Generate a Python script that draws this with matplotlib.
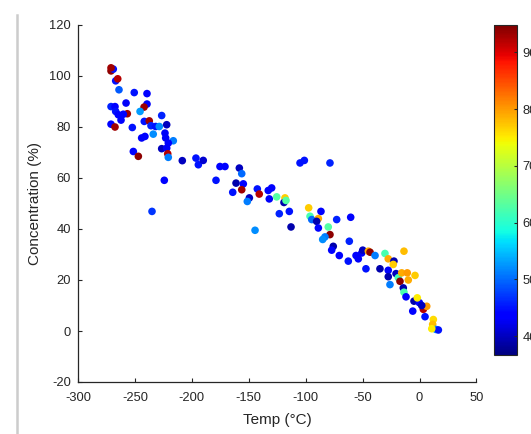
import matplotlib
matplotlib.use("Agg")
import matplotlib.pyplot as plt
from matplotlib.lines import Line2D
import numpy as np

temp = [-271.0, -269.0, -271.0, -266.9, -265.1, -264.0, -250.6, -239.4, -257.8, -239.4,
        -242.0, -245.5, -271.0, -267.5, -266.9, -264.6, -256.7, -260.2, -262.2, -271.0,
        -267.5, -252.3, -241.8, -237.4, -235.9, -231.8, -228.6, -226.5, -222.1, -233.9,
        -223.6, -223.0, -216.3, -220.7, -244.1, -241.2, -251.4, -247.0, -226.5, -222.1,
        -221.2, -220.7, -208.4, -196.4, -194.3, -190.0, -224.2, -175.3, -170.9, -178.8,
        -158.3, -156.2, -161.2, -154.8, -156.2, -164.1, -142.5, -140.8, -149.5, -151.3,
        -235.0, -144.5, -105.0, -101.2, -78.7, -132.9, -129.9, -132.0, -125.5, -118.2,
        -119.1, -117.3, -114.4, -123.2, -112.9, -97.4, -86.6, -96.2, -94.7, -88.9,
        -90.4, -88.9, -72.8, -60.5, -80.2, -78.7, -83.1, -85.1, -75.8, -77.2,
        -61.7, -70.5, -62.6, -55.8, -53.8, -50.8, -49.9, -45.0, -43.5, -47.1,
        -39.1, -34.8, -30.4, -27.5, -22.5, -23.1, -27.5, -27.5, -26.0, -20.7,
        -18.7, -17.2, -13.7, -15.7, -10.8, -4.0, -9.9, -14.3, -13.7, -11.9,
        -4.9, -0.2, -2.0, -6.0, 3.3, 6.3, 1.9, 4.8, 12.1, 11.5,
        14.4, 16.5, 10.7]

concentration = [102.0, 102.7, 103.2, 98.1, 98.9, 94.6, 93.5, 93.1, 89.4, 89.0,
                 87.8, 86.1, 88.0, 88.0, 86.1, 84.8, 85.2, 85.0, 82.7, 81.1,
                 80.0, 79.8, 82.2, 82.4, 80.5, 80.2, 80.2, 84.5, 80.9, 77.2,
                 77.6, 75.7, 74.6, 73.7, 75.7, 76.3, 70.4, 68.5, 71.5, 71.7,
                 69.5, 68.1, 66.8, 67.8, 65.2, 66.9, 59.1, 64.5, 64.5, 59.1,
                 63.9, 61.7, 58.0, 57.7, 55.4, 54.4, 55.7, 53.7, 52.2, 50.8,
                 46.9, 39.5, 65.9, 66.9, 65.9, 55.1, 56.1, 51.8, 52.6, 52.2,
                 50.4, 51.2, 46.9, 46.0, 40.8, 48.3, 46.9, 45.0, 43.7, 44.1,
                 43.0, 40.4, 43.7, 44.6, 40.8, 37.8, 36.9, 35.9, 33.2, 31.7,
                 35.2, 29.6, 27.4, 29.6, 28.3, 30.6, 31.7, 31.3, 30.9, 24.4,
                 29.6, 24.4, 30.4, 28.3, 27.4, 26.1, 23.8, 21.3, 18.2, 22.5,
                 20.9, 19.5, 31.3, 22.8, 22.8, 21.8, 20.0, 16.9, 15.2, 13.4,
                 11.7, 11.1, 13.0, 7.8, 8.5, 9.7, 10.0, 5.6, 4.5, 2.6,
                 0.6, 0.4, 0.9]

color_value = [94, 45, 93, 45, 92, 49, 45, 44, 43, 43,
               93, 53, 46, 44, 45, 44, 93, 44, 44, 44,
               93, 45, 45, 93, 46, 45, 52, 46, 40, 52,
               43, 43, 51, 44, 43, 44, 44, 94, 40, 43,
               92, 51, 40, 45, 45, 41, 44, 44, 44, 45,
               40, 50, 39, 44, 93, 45, 45, 92, 40, 51,
               47, 52, 45, 45, 46, 44, 44, 43, 63, 77,
               39, 63, 45, 46, 39, 77, 44, 62, 50, 79,
               39, 44, 46, 44, 63, 94, 51, 52, 39, 44,
               46, 44, 45, 44, 43, 43, 40, 79, 94, 45,
               51, 39, 62, 79, 39, 77, 44, 39, 51, 40,
               62, 94, 78, 79, 80, 77, 79, 39, 62, 44,
               39, 44, 75, 44, 92, 80, 40, 45, 76, 78,
               52, 45, 75]

x_ticks = [-300, -250, -200, -150, -100, -50, 0, 50]
y_ticks = [-20, 0, 20, 40, 60, 80, 100, 120]
cbar_ticks = [40, 50, 60, 70, 80, 90]

plt.rcParams['font.family'] = ['Liberation Sans', 'DejaVu Sans']
plt.rcParams['axes.unicode_minus'] = False
txt = '#262626'

fig = plt.figure(figsize=(5.31, 4.34), dpi=100)
fig.patch.set_facecolor('white')

# left shadow border of the screenshot
fig.add_artist(Line2D([16.5 / 531, 16.5 / 531], [0, 0.965], color='#cccccc', lw=1.8))

ax = fig.add_axes([78 / 531, 1 - 382 / 434, (476.5 - 78) / 531, (382 - 25) / 434])
sc = ax.scatter(temp, concentration, c=color_value, cmap='jet', vmin=36.7, vmax=94.8,
                s=30, edgecolors='none', zorder=3)

ax.set_xlim(-300, 50)
ax.set_ylim(-20, 120)
ax.set_xticks(x_ticks)
ax.set_yticks(y_ticks)
for s in ['top', 'right']:
    ax.spines[s].set_visible(False)
for s in ['left', 'bottom']:
    ax.spines[s].set_color(txt)
    ax.spines[s].set_linewidth(0.9)
ax.tick_params(direction='in', length=3, width=0.8, color=txt, labelcolor=txt,
               labelsize=9.3)
ax.tick_params(axis='x', pad=7.5)
ax.tick_params(axis='y', pad=5)
ax.set_xlabel('Temp (°C)', fontsize=11, color=txt, labelpad=6)
ax.set_ylabel('Concentration (%)', fontsize=11, color=txt, labelpad=5)

cax = fig.add_axes([494 / 531, 1 - 355 / 434, 23 / 531, 330 / 434])
cb = fig.colorbar(sc, cax=cax)
cb.set_ticks(cbar_ticks)
cb.outline.set_edgecolor(txt)
cb.outline.set_linewidth(0.8)
cax.tick_params(direction='in', length=2.5, width=0.8, color=txt, labelcolor=txt,
                labelsize=9.3, pad=4)

fig.savefig('out.png', dpi=100, facecolor='white')
